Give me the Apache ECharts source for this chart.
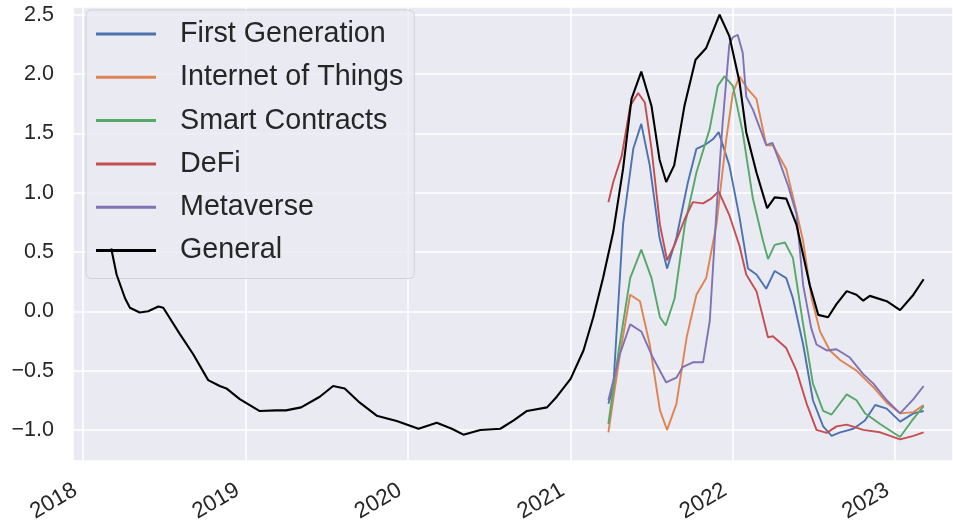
<!DOCTYPE html>
<html>
<head>
<meta charset="utf-8">
<script src="https://cdn.jsdelivr.net/npm/echarts@6/dist/echarts.min.js"></script>
<style>
html,body{margin:0;padding:0;background:#fff;}
#chart{width:953px;height:525px;}
</style>
</head>
<body>
<div id="chart"></div>
<script>
const seriesNames = ['First Generation','Internet of Things','Smart Contracts','DeFi','Metaverse','General'];
const seriesColors = ['#4C72B0','#DD8452','#55A868','#C44E52','#8172B3','#000000'];

const firstGeneration = [
['2021-03-27',-0.78],['2021-04-07',-0.64],['2021-04-29',0.73],['2021-05-22',1.37],['2021-06-09',1.58],['2021-06-28',1.23],['2021-07-20',0.62],['2021-08-06',0.36],['2021-08-27',0.62],['2021-09-22',1.09],['2021-10-11',1.37],['2021-10-29',1.40],['2021-11-17',1.45],['2021-11-30',1.51],['2021-12-24',1.23],['2022-01-16',0.79],['2022-02-04',0.36],['2022-02-23',0.31],['2022-03-17',0.19],['2022-04-05',0.34],['2022-05-01',0.28],['2022-05-16',0.11],['2022-06-08',-0.28],['2022-06-30',-0.75],['2022-07-23',-0.97],['2022-08-11',-1.05],['2022-08-30',-1.02],['2022-09-29',-0.99],['2022-10-25',-0.92],['2022-11-17',-0.79],['2022-12-13',-0.82],['2023-01-12',-0.93],['2023-02-11',-0.86],['2023-03-06',-0.84]
];
const internetOfThings = [
['2021-03-27',-1.02],['2021-04-22',-0.36],['2021-05-15',0.14],['2021-06-06',0.085],['2021-06-28',-0.28],['2021-07-21',-0.835],['2021-08-06',-1.00],['2021-08-27',-0.78],['2021-09-19',-0.22],['2021-10-11',0.14],['2021-11-02',0.28],['2021-11-25',0.73],['2021-12-17',1.45],['2022-01-01',1.84],['2022-01-16',1.98],['2022-02-04',1.87],['2022-02-23',1.79],['2022-03-17',1.40],['2022-04-01',1.40],['2022-05-01',1.20],['2022-05-24',0.84],['2022-06-08',0.59],['2022-06-27',0.11],['2022-07-16',-0.17],['2022-08-07',-0.33],['2022-08-30',-0.41],['2022-10-06',-0.50],['2022-11-13',-0.64],['2022-12-13',-0.77],['2023-01-12',-0.86],['2023-02-11',-0.85],['2023-03-06',-0.79]
];
const smartContracts = [
['2021-03-27',-0.95],['2021-04-18',-0.36],['2021-05-15',0.28],['2021-06-09',0.52],['2021-07-02',0.28],['2021-07-21',-0.05],['2021-08-03',-0.12],['2021-08-23',0.11],['2021-09-15',0.73],['2021-10-11',1.17],['2021-11-10',1.54],['2021-11-28',1.90],['2021-12-13',1.98],['2022-01-01',1.90],['2022-01-23',1.51],['2022-02-15',0.95],['2022-03-10',0.59],['2022-03-21',0.44],['2022-04-05',0.56],['2022-04-28',0.58],['2022-05-16',0.45],['2022-06-08',-0.11],['2022-06-30',-0.61],['2022-07-23',-0.84],['2022-08-11',-0.87],['2022-09-14',-0.70],['2022-10-06',-0.75],['2022-10-25',-0.86],['2022-11-28',-0.95],['2023-01-12',-1.06],['2023-02-08',-0.92],['2023-03-06',-0.80]
];
const deFi = [
['2021-03-27',0.92],['2021-04-07',1.09],['2021-04-26',1.31],['2021-05-15',1.73],['2021-06-02',1.84],['2021-06-17',1.76],['2021-07-02',1.37],['2021-07-21',0.73],['2021-08-06',0.43],['2021-08-23',0.56],['2021-09-15',0.78],['2021-10-03',0.92],['2021-10-26',0.91],['2021-11-13',0.95],['2021-11-30',1.01],['2021-12-24',0.81],['2022-01-16',0.55],['2022-01-31',0.31],['2022-02-23',0.17],['2022-03-21',-0.22],['2022-04-01',-0.21],['2022-05-01',-0.31],['2022-05-24',-0.50],['2022-06-16',-0.78],['2022-07-08',-1.00],['2022-07-31',-1.025],['2022-08-22',-0.97],['2022-09-14',-0.955],['2022-10-21',-1.00],['2022-11-28',-1.02],['2023-01-12',-1.08],['2023-02-11',-1.05],['2023-03-06',-1.02]
];
const metaverse = [
['2021-03-27',-0.75],['2021-04-22',-0.36],['2021-05-15',-0.11],['2021-06-09',-0.17],['2021-07-05',-0.39],['2021-08-04',-0.60],['2021-08-27',-0.56],['2021-09-10',-0.47],['2021-10-03',-0.43],['2021-10-26',-0.43],['2021-11-10',-0.08],['2021-11-25',0.84],['2021-12-09',1.59],['2021-12-24',2.25],['2022-01-01',2.31],['2022-01-12',2.33],['2022-01-23',2.18],['2022-01-31',1.81],['2022-02-15',1.70],['2022-03-17',1.40],['2022-03-31',1.42],['2022-04-16',1.26],['2022-05-05',1.06],['2022-05-24',0.82],['2022-06-08',0.22],['2022-06-26',-0.14],['2022-07-08',-0.28],['2022-07-31',-0.33],['2022-08-22',-0.32],['2022-09-21',-0.39],['2022-10-21',-0.53],['2022-11-13',-0.61],['2022-12-13',-0.75],['2023-01-12',-0.86],['2023-02-11',-0.74],['2023-03-06',-0.63]
];
const general = [
['2018-03-05',0.53],['2018-03-17',0.31],['2018-04-05',0.11],['2018-04-16',0.03],['2018-05-08',-0.01],['2018-05-27',0.00],['2018-06-19',0.04],['2018-06-30',0.03],['2018-08-06',-0.19],['2018-09-05',-0.36],['2018-10-09',-0.58],['2018-11-04',-0.63],['2018-11-19',-0.65],['2018-12-19',-0.74],['2019-02-01',-0.84],['2019-03-11',-0.835],['2019-04-02',-0.835],['2019-05-06',-0.81],['2019-06-17',-0.72],['2019-07-17',-0.63],['2019-08-12',-0.65],['2019-09-15',-0.77],['2019-10-23',-0.88],['2019-12-07',-0.925],['2020-01-25',-0.99],['2020-03-06',-0.94],['2020-04-09',-0.99],['2020-05-05',-1.04],['2020-06-12',-1.00],['2020-07-27',-0.99],['2020-08-26',-0.92],['2020-09-25',-0.84],['2020-11-09',-0.81],['2020-12-01',-0.72],['2021-01-01',-0.57],['2021-01-30',-0.33],['2021-02-21',-0.05],['2021-03-15',0.28],['2021-04-07',0.67],['2021-04-29',1.20],['2021-05-18',1.79],['2021-06-09',2.02],['2021-07-02',1.73],['2021-07-20',1.28],['2021-08-04',1.09],['2021-08-22',1.23],['2021-09-14',1.73],['2021-10-09',2.12],['2021-11-02',2.22],['2021-12-02',2.50],['2021-12-24',2.32],['2022-01-16',1.93],['2022-01-31',1.51],['2022-02-23',1.17],['2022-03-19',0.87],['2022-04-05',0.96],['2022-05-01',0.95],['2022-05-24',0.73],['2022-06-23',0.22],['2022-07-12',-0.03],['2022-08-03',-0.05],['2022-08-22',0.06],['2022-09-14',0.17],['2022-10-06',0.14],['2022-10-21',0.09],['2022-11-05',0.13],['2022-12-13',0.085],['2023-01-12',0.01],['2023-02-11',0.14],['2023-03-06',0.27]
];
const allData = [firstGeneration, internetOfThings, smartContracts, deFi, metaverse, general];

const xMin = '2017-12-09';
const xMax = '2023-05-11';
const yMin = -1.262;
const yMax = 2.565;

const chart = echarts.init(document.getElementById('chart'), null, {renderer: 'canvas'});
const font = 'Liberation Sans, Arial, sans-serif';
chart.setOption({
  animation: false,
  backgroundColor: '#ffffff',
  grid: {left: 73, right: 0, top: 7, bottom: 61, show: true, backgroundColor: '#EAEAF2', borderWidth: 0},
  xAxis: {
    type: 'time', min: xMin, max: xMax,
    splitNumber: 5,
    minInterval: 365 * 86400000,
    axisLine: {show: false}, axisTick: {show: false},
    splitLine: {show: true, lineStyle: {color: '#ffffff', width: 1.6}},
    axisLabel: {
      rotate: 30, margin: 23, fontSize: 22.5, fontFamily: font, color: '#262626',
      padding: [0, 9, 0, 0],
      showMinLabel: false, showMaxLabel: false,
      formatter: v => String(new Date(v).getFullYear())
    }
  },
  yAxis: {
    type: 'value', min: yMin, max: yMax, splitNumber: 7,
    axisLine: {show: false}, axisTick: {show: false},
    splitLine: {show: true, lineStyle: {color: '#ffffff', width: 1.6}},
    axisLabel: {
      margin: 19, fontSize: 21.5, fontFamily: font, color: '#262626',
      padding: [3, 0, 0, 0],
      showMinLabel: false, showMaxLabel: false,
      formatter: v => (v < 0 ? '\u2212' : '') + Math.abs(v).toFixed(1)
    }
  },
  legend: {
    left: 86, top: 10, orient: 'vertical',
    width: 310,
    backgroundColor: 'rgba(234,234,242,0.8)',
    borderColor: '#D0D0D8', borderWidth: 1, borderRadius: 5,
    padding: [9, 11, 13, 10],
    itemWidth: 60, itemHeight: 30, itemGap: 13.3,
    textStyle: {fontSize: 28.7, fontFamily: font, color: '#262626', lineHeight: 30, padding: [0, 0, 0, 19]},
    data: seriesNames.map(n => ({name: n, icon: 'path://M0,0 L60,0 L60,3 L0,3 Z'}))
  },
  series: allData.map((d, i) => ({
    name: seriesNames[i],
    type: 'line',
    data: d,
    showSymbol: false,
    symbol: 'none',
    color: seriesColors[i],
    lineStyle: {width: i === 5 ? 2.1 : 1.9, color: seriesColors[i]},
    z: 2 + i
  }))
});
</script>
</body>
</html>
